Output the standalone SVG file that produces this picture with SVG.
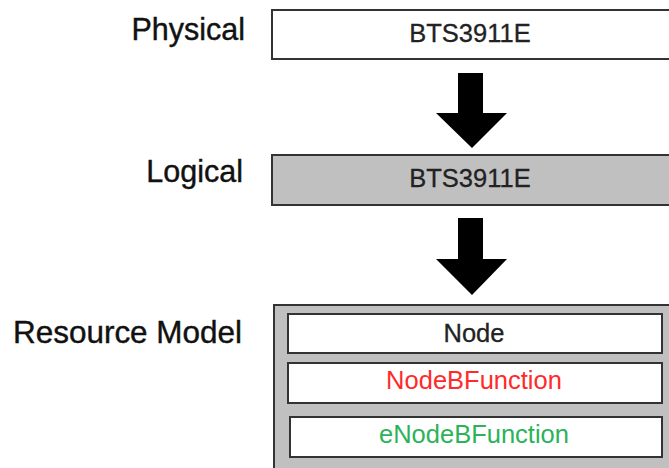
<svg xmlns="http://www.w3.org/2000/svg" width="669" height="468" viewBox="0 0 669 468">
<defs>
<style>
.lbl{font-family:"Liberation Sans",Arial,sans-serif;font-size:30.5px;fill:#111;stroke:#111;stroke-width:0.4;text-anchor:end}
.bt{font-family:"Liberation Sans",Arial,sans-serif;font-size:25.5px;fill:#222;stroke-width:0.3;text-anchor:middle}
.box{stroke:#333;stroke-width:2}
.arrow{fill:#000}
</style>
</defs>
<rect width="669" height="468" fill="#fff"/>
<g id="label-physical"><text class="lbl" x="245" y="40">Physical</text></g>
<g id="label-logical"><text class="lbl" x="243" y="182">Logical</text></g>
<g id="label-resource"><text class="lbl" x="242" y="343" textLength="229" lengthAdjust="spacingAndGlyphs">Resource Model</text></g>
<g id="physical">
<rect class="box" x="272" y="10" width="410" height="49" fill="#fff"/>
<text class="bt" x="470" y="42" style="stroke:#222">BTS3911E</text>
</g>
<g id="logical">
<rect class="box" x="272" y="155" width="410" height="50" fill="#c0c0c0"/>
<text class="bt" x="470" y="187" style="stroke:#222">BTS3911E</text>
</g>
<g id="resource-model">
<rect class="box" x="274" y="305" width="410" height="180" fill="#c0c0c0"/>
</g>
<g id="node">
<rect class="box" x="288" y="314" width="374" height="39" fill="#fff"/>
<text class="bt" x="474" y="342" style="stroke:#222">Node</text>
</g>
<g id="nodebfunction">
<rect class="box" x="288" y="363" width="374" height="40" fill="#fff"/>
<text class="bt" x="474" y="389" style="fill:#ff2a2a">NodeBFunction</text>
</g>
<g id="enodebfunction">
<rect class="box" x="290" y="417" width="372" height="40" fill="#fff"/>
<text class="bt" x="474" y="443" style="fill:#2cb35a">eNodeBFunction</text>
</g>
<g id="connectors">
<polygon class="arrow" points="458,73 483,73 483,113 507,113 472,148 436,113 458,113"/>
<polygon class="arrow" points="458,218 483,218 483,259 507,259 472,295 436,259 458,259"/>
</g>
</svg>
